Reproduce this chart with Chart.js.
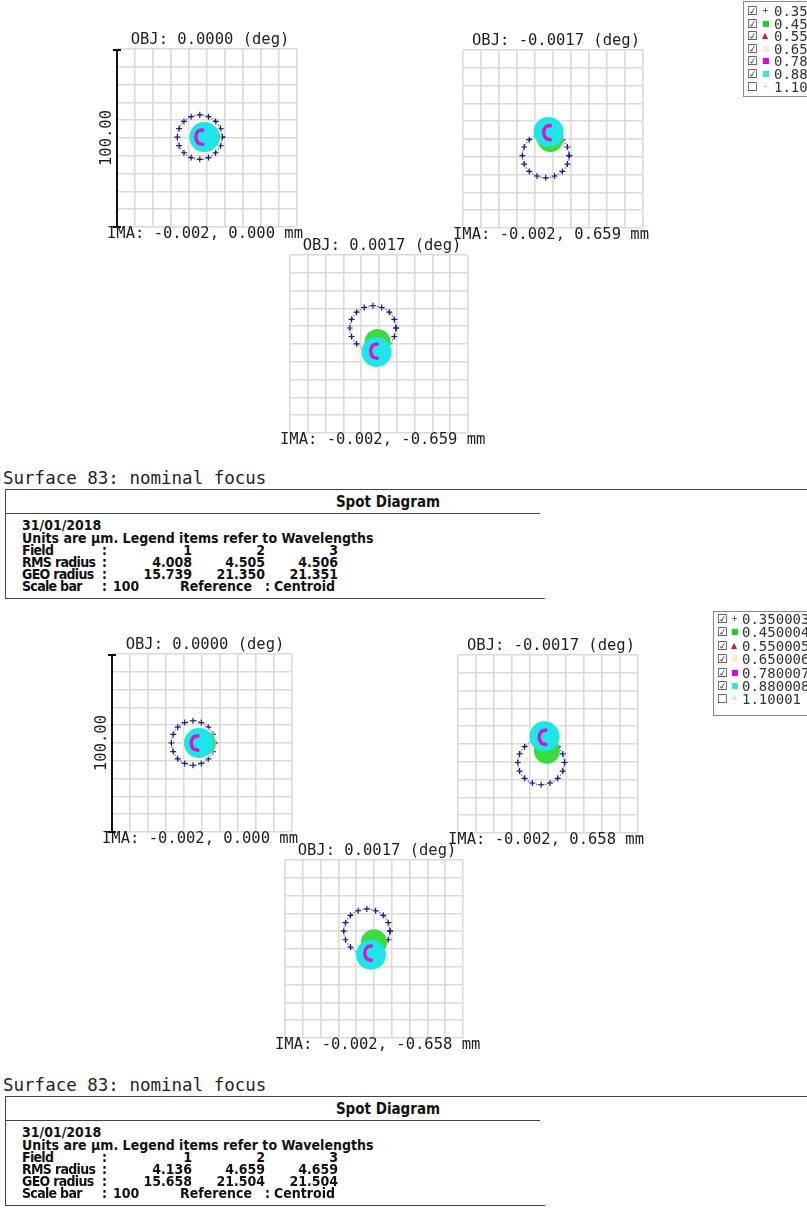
<!DOCTYPE html>
<html>
<head>
<meta charset="utf-8">
<script src="https://cdn.jsdelivr.net/npm/chart.js@4.4.0/dist/chart.umd.min.js"></script>
<style>
  html, body { margin: 0; padding: 0; background: #fff; }
  #page { position: relative; width: 807px; height: 1209px; overflow: hidden; background: #fff; }
  .t { position: absolute; white-space: pre; color: #1f1f1f; line-height: 1; }
  .mono { font-family: 'DejaVu Sans Mono', monospace; font-size: 15.5px; }
  .big { font-family: 'DejaVu Sans Mono', monospace; font-size: 17.5px; }
  .info { font-family: 'DejaVu Sans Condensed', 'DejaVu Sans', sans-serif; font-weight: bold; font-stretch: condensed; font-size: 14px; color: #111; }
  .narrow { letter-spacing: -0.7px; }
  .hdr { font-family: 'DejaVu Sans Condensed', 'DejaVu Sans', sans-serif; font-weight: bold; font-stretch: condensed; font-size: 15px; color: #111; }
  .leg { font-family: 'DejaVu Sans Mono', monospace; font-size: 14px; color: #333; }
  .cb { font-family: 'DejaVu Sans', sans-serif; font-size: 12px; color: #333; }
  .mk { font-family: 'DejaVu Sans', sans-serif; font-size: 8px; }
  .ln { position: absolute; background: #444; }
</style>
</head>
<body>
<div id="page"></div>
<script>
// 波長 (µm)
var wavelengths = ['0.350003', '0.450004', '0.550005', '0.650006', '0.780007', '0.880008', '1.10001'];
var wavelengthChecked = [true, true, true, true, true, true, false];

// フィールド
var objLabels = ['OBJ: 0.0000 (deg)', 'OBJ: -0.0017 (deg)', 'OBJ: 0.0017 (deg)'];
var imaLabelsA = ['IMA: -0.002, 0.000 mm', 'IMA: -0.002, 0.659 mm', 'IMA: -0.002, -0.659 mm'];
var imaLabelsB = ['IMA: -0.002, 0.000 mm', 'IMA: -0.002, 0.658 mm', 'IMA: -0.002, -0.658 mm'];
var fieldNumbers = ['1', '2', '3'];
var rmsA = ['4.008', '4.505', '4.506'];
var geoA = ['15.739', '21.350', '21.351'];
var rmsB = ['4.136', '4.659', '4.659'];
var geoB = ['15.658', '21.504', '21.504'];
var scaleBarValue = '100';
var scaleBarLabel = '100.00';
var reportDate = '31/01/2018';
var surfaceText = 'Surface 83: nominal focus';

// 軸 (µm)
var axisMin = -50;
var axisMax = 50;
var gridStep = 10;

// 0.35 µm スポット (リング状), µm
var ringA1 = [[8.5,0.5],[7.5,5.3],[4.8,9.3],[0.8,12.0],[-4,13.0],[-8.8,12.0],[-12.8,9.3],[-15.5,5.3],[-16.5,0.5],[-15.5,-4.3],[-12.8,-8.3],[-8.8,-11.0],[-4,-12.0],[0.8,-11.0],[4.8,-8.3],[7.5,-4.3]];
var ringA2 = [[9,-9.3],[8.0,-4.5],[5.2,-0.4],[0.9,2.2],[-4,3.2],[-8.9,2.2],[-13.2,-0.4],[-16.0,-4.5],[-17,-9.3],[-16.0,-14.1],[-13.2,-18.2],[-8.9,-20.8],[-4,-21.8],[0.9,-20.8],[5.2,-18.2],[8.0,-14.1]];
var ringA3 = [[9.6,9],[8.6,13.8],[5.8,17.9],[1.5,20.5],[-3.4,21.5],[-8.3,20.5],[-12.6,17.9],[-15.4,13.8],[-16.4,9],[-15.4,4.2],[-12.6,0.1],[-8.3,-2.5],[-3.4,-3.5],[1.5,-2.5],[5.8,0.1],[8.6,4.2]];
var ringB1 = [[7,0],[6.0,4.8],[3.5,8.9],[-0.4,11.5],[-5,12.5],[-9.6,11.5],[-13.5,8.9],[-16.0,4.8],[-17,0],[-16.0,-4.8],[-13.5,-8.9],[-9.6,-11.5],[-5,-12.5],[-0.4,-11.5],[3.5,-8.9],[6.0,-4.8]];
var ringB2 = [[9.2,-10.4],[8.2,-5.6],[5.4,-1.5],[1.1,1.1],[-3.8,2.1],[-8.7,1.1],[-13.0,-1.5],[-15.8,-5.6],[-16.8,-10.4],[-15.8,-15.2],[-13.0,-19.3],[-8.7,-21.9],[-3.8,-22.9],[1.1,-21.9],[5.4,-19.3],[8.2,-15.2]];
var ringB3 = [[9,10],[8.0,14.8],[5.2,18.9],[0.9,21.5],[-4,22.5],[-8.9,21.5],[-13.2,18.9],[-16.0,14.8],[-17,10],[-16.0,5.2],[-13.2,1.1],[-8.9,-1.5],[-4,-2.5],[0.9,-1.5],[5.2,1.1],[8.0,5.2]];

// 0.78 µm スポット (三日月), µm
var crescentA1 = [[-2.5,4.5],[-5,3.7],[-6.2,0.5],[-5,-2.7],[-2.5,-3.5]];
var crescentA2 = [[-1.5,7.6],[-4,6.8],[-5.2,3.6],[-4,0.4],[-1.5,-0.4]];
var crescentA3 = [[-1,0],[-3.5,-0.8],[-4.7,-4],[-3.5,-7.2],[-1,-8]];
var crescentB1 = [[-2.3,4],[-4.8,3.2],[-6,0],[-4.8,-3.2],[-2.3,-4]];
var crescentB2 = [[-1.2,7.8],[-3.7,7.0],[-4.9,3.8],[-3.7,0.6],[-1.2,-0.2]];
var crescentB3 = [[-1.5,1.7],[-4,0.9],[-5.2,-2.3],[-4,-5.5],[-1.5,-6.3]];

// 0.88 µm / 0.45 µm スポット中心, µm
var cyanA = [[-1.5,0.5],[-2.5,4],[-1.4,-4.5]];
var cyanB = [[-1.7,0],[-2,4.3],[-1.7,-3.2]];
var greenA = [[0,0.5],[-1.5,0],[-0.8,1.1]];
var greenB = [[0.3,0],[-0.6,-3.8],[0,3.8]];

var page = document.getElementById('page');

function addText(text, x, y, cls, align) {
  var el = document.createElement('div');
  el.className = 't ' + cls;
  el.textContent = text;
  el.style.left = x + 'px';
  el.style.top = y + 'px';
  var tx = align === 'center' ? '-50%' : (align === 'right' ? '-100%' : '0');
  el.style.transform = 'translate(' + tx + ', -50%)';
  page.appendChild(el);
  return el;
}

function addLine(x, y, w, h, color) {
  var el = document.createElement('div');
  el.className = 'ln';
  el.style.left = x + 'px';
  el.style.top = y + 'px';
  el.style.width = w + 'px';
  el.style.height = h + 'px';
  if (color) el.style.background = color;
  page.appendChild(el);
}

function toXY(pts) {
  return pts.map(function(p) { return { x: p[0], y: p[1] }; });
}

function axisOptions() {
  return {
    type: 'linear',
    min: axisMin,
    max: axisMax,
    ticks: { display: false, stepSize: gridStep },
    grid: { color: '#dadada', lineWidth: 1.6, drawTicks: false },
    border: { display: false }
  };
}

// スポットダイアグラム1枚
function makePanel(box, ring, crescent, cyan, green) {
  var canvas = document.createElement('canvas');
  canvas.width = box.w + 2;
  canvas.height = box.h + 2;
  canvas.style.position = 'absolute';
  canvas.style.left = (box.x - 1) + 'px';
  canvas.style.top = (box.y - 1) + 'px';
  page.appendChild(canvas);

  new Chart(canvas.getContext('2d'), {
    type: 'scatter',
    data: {
      datasets: [
        {
          label: wavelengths[4],
          data: toXY(crescent),
          showLine: true,
          borderColor: '#d617c9',
          borderWidth: 3.5,
          borderCapStyle: 'round',
          tension: 0.4,
          pointRadius: 0,
          order: 1
        },
        {
          label: wavelengths[5],
          data: toXY([cyan]),
          pointRadius: 15,
          backgroundColor: '#1de5ea',
          borderWidth: 0,
          order: 2
        },
        {
          label: wavelengths[1],
          data: toXY([green]),
          pointRadius: 13,
          backgroundColor: '#3bdc3f',
          borderWidth: 0,
          order: 3
        },
        {
          label: wavelengths[3],
          data: toXY([cyan]),
          pointRadius: 17.5,
          backgroundColor: 'rgba(240, 243, 210, 0.6)',
          borderWidth: 0,
          order: 4
        },
        {
          label: wavelengths[0],
          data: toXY(ring.concat([ring[0]])),
          showLine: true,
          borderColor: 'rgba(72, 72, 200, 0.8)',
          borderWidth: 1.2,
          borderDash: [1.5, 1.5],
          tension: 0.35,
          pointStyle: 'cross',
          pointRadius: 3,
          pointBorderColor: '#1c1c78',
          pointBorderWidth: 1.2,
          order: 5
        }
      ]
    },
    options: {
      responsive: false,
      animation: false,
      devicePixelRatio: 1,
      layout: { padding: 1, autoPadding: false },
      scales: { x: axisOptions(), y: axisOptions() },
      plugins: { legend: { display: false }, tooltip: { enabled: false } }
    }
  });
}

function buildPlots(dx, dy, imaLabels, rings, crescents, cyans, greens) {
  var boxes = [
    { x: 117 + dx, y: 49 + dy, w: 180, h: 178 },
    { x: 463 + dx, y: 50 + dy, w: 180, h: 178 },
    { x: 290 + dx, y: 255 + dy, w: 178, h: 178 }
  ];
  boxes.forEach(function(b, i) {
    makePanel(b, rings[i], crescents[i], cyans[i], greens[i]);
    addText(objLabels[i], b.x + b.w / 2 + 3, b.y - 9, 'mono', 'center');
    addText(imaLabels[i], b.x - 10, b.y + b.h + 7, 'mono', 'left');
  });

  // スケールバー
  var b0 = boxes[0];
  addLine(b0.x - 1, b0.y, 2, b0.h, '#111');
  addLine(b0.x - 4, b0.y, 8, 2, '#111');
  addLine(b0.x - 4, b0.y + b0.h - 1, 8, 2, '#111');
  var lbl = addText(scaleBarLabel, b0.x - 10, b0.y + b0.h / 2, 'mono', 'left');
  lbl.style.transform = 'translate(-50%, -50%) rotate(-90deg)';
}

function buildInfo(dy, rms, geo) {
  addText(surfaceText, 3, 479 + dy, 'big', 'left');
  addLine(5, 489 + dy, 802, 1);
  addLine(5, 489 + dy, 1, 110);
  addText('Spot Diagram', 388, 502 + dy, 'hdr', 'center');
  addLine(5, 513 + dy, 535, 1);
  addLine(5, 598 + dy, 540, 1);

  var colRight = [192, 265, 338];
  addText(reportDate, 22, 525 + dy, 'info', 'left');
  addText('Units are \u00b5m. Legend items refer to Wavelengths', 22, 538 + dy, 'info', 'left');

  var rows = [
    { name: 'Field', y: 550, vals: fieldNumbers },
    { name: 'RMS radius', y: 562, vals: rms },
    { name: 'GEO radius', y: 574, vals: geo }
  ];
  rows.forEach(function(r) {
    addText(r.name, 22, r.y + dy, 'info narrow', 'left');
    addText(':', 102, r.y + dy, 'info', 'left');
    r.vals.forEach(function(v, i) {
      addText(v, colRight[i], r.y + dy, 'info', 'right');
    });
  });
  addText('Scale bar', 22, 586 + dy, 'info narrow', 'left');
  addText(':', 102, 586 + dy, 'info', 'left');
  addText(scaleBarValue, 113, 586 + dy, 'info', 'left');
  addText('Reference', 180, 586 + dy, 'info', 'left');
  addText(':', 265, 586 + dy, 'info', 'left');
  addText('Centroid', 274, 586 + dy, 'info', 'left');
}

// 凡例 (右上)
function buildLegend(boxX, boxY, boxH, rowY, step, cbX, mkX, txX) {
  var marks = ['+', '\u25a0', '\u25b2', '\u25a0', '\u25a0', '\u25a0', '+'];
  var markColors = ['#2a2a9a', '#22cc33', '#cc2222', '#f2f2d2', '#d010d0', '#40e0e0', '#c8c8e0'];
  addLine(boxX, boxY, 807 - boxX, 1, '#888');
  addLine(boxX, boxY, 1, boxH, '#888');
  addLine(boxX, boxY + boxH, 807 - boxX, 1, '#888');
  wavelengths.forEach(function(w, i) {
    var y = rowY + i * step;
    addText(wavelengthChecked[i] ? '\u2611' : '\u2610', cbX, y, 'cb', 'left');
    var m = addText(marks[i], mkX, y, 'mk', 'left');
    m.style.color = markColors[i];
    addText(w, txX, y, 'leg', 'left');
  });
}

buildPlots(0, 0, imaLabelsA, [ringA1, ringA2, ringA3], [crescentA1, crescentA2, crescentA3], cyanA, greenA);
buildInfo(0, rmsA, geoA);
buildLegend(743, 1, 95, 11, 12.6, 747, 762, 774);

buildPlots(-5, 605, imaLabelsB, [ringB1, ringB2, ringB3], [crescentB1, crescentB2, crescentB3], cyanB, greenB);
buildInfo(607, rmsB, geoB);
buildLegend(713, 611, 104, 619, 13.4, 717, 731, 742);
</script>
</body>
</html>
